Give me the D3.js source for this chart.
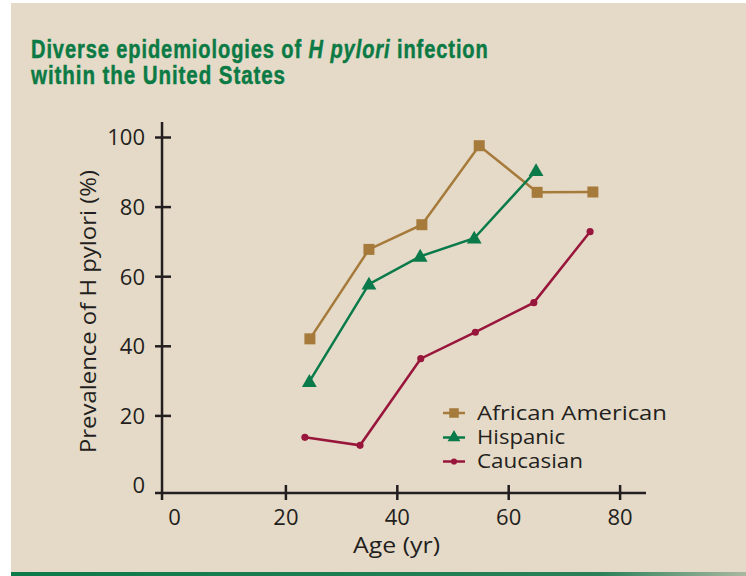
<!DOCTYPE html>
<html><head><meta charset="utf-8">
<script src="https://cdn.jsdelivr.net/npm/d3@7"></script>
<style>html,body{margin:0;padding:0;background:#fff;}svg{display:block;}</style>
</head><body>
<script>
const xTicks = [0, 20, 40, 60, 80];
const yTicks = [0, 20, 40, 60, 80, 100];
const africanAmerican = [[24.4, 42], [35, 67.7], [44.5, 74.8], [54.8, 97.5], [65.2, 84.1], [75.2, 84.2]];
const hispanic = [[24.3, 29.7], [35, 57.7], [44.2, 65.7], [53.9, 70.9], [65, 90.3]];
const caucasian = [[23.5, 13.7], [33.4, 11.4], [44.3, 36.3], [54.1, 43.9], [64.6, 52.4], [74.7, 72.8]];
const seriesNames = ["African American", "Hispanic", "Caucasian"];

const W = 746, H = 576;
const svg = d3.select("body").append("svg").attr("width", W).attr("height", H);
const defs = svg.append("defs");
const grad = defs.append("linearGradient").attr("id", "bl");
grad.append("stop").attr("offset", "0%").attr("stop-color", "#0d7a4a");
grad.append("stop").attr("offset", "80%").attr("stop-color", "#2a8059");
grad.append("stop").attr("offset", "100%").attr("stop-color", "#a8b8a0");

svg.append("rect").attr("x", 11).attr("y", 3).attr("width", W - 11).attr("height", H - 3).attr("fill", "#e5dac7");
svg.append("rect").attr("x", 11).attr("y", 572).attr("width", W - 11).attr("height", 4).attr("fill", "url(#bl)");

// Title (condensed by horizontal scaling)
const titleFont = "'Liberation Sans',sans-serif";
function fitX(sel, x0, target) {
  const w = sel.node().getComputedTextLength();
  sel.attr("transform", `translate(${x0},0) scale(${target / w},1)`);
}
const t1 = svg.append("text").attr("x", 0).attr("y", 58).attr("fill", "#0b7a45")
  .style("font-family", titleFont).style("font-weight", "bold").style("font-size", "26px")
  .style("letter-spacing", "1.2px")
  .attr("stroke", "#0b7a45").attr("stroke-width", 0.5);
t1.append("tspan").text("Diverse epidemiologies of ");
t1.append("tspan").style("font-style", "italic").text("H pylori");
t1.append("tspan").text(" infection");
fitX(t1, 31, 458);
const t2 = svg.append("text").attr("x", 0).attr("y", 84).attr("fill", "#0b7a45")
  .style("font-family", titleFont).style("font-weight", "bold").style("font-size", "26px")
  .style("letter-spacing", "1.2px")
  .attr("stroke", "#0b7a45").attr("stroke-width", 0.5)
  .text("within the United States");
fitX(t2, 31, 255);

const x = d3.scaleLinear().domain([0, 80]).range([174, 619.6]);
const y = d3.scaleLinear().domain([0, 100]).range([485, 137]);

const axisColor = "#231f20";
const font = "'Open Sans', sans-serif";
const axisX0 = x(-2.15), axisY0 = y(-2.3);

// Y axis
const gy = svg.append("g").attr("transform", `translate(${axisX0},0)`)
  .call(d3.axisLeft(y).tickValues(yTicks).tickSize(0).tickPadding(17));
gy.select(".domain").remove();
gy.selectAll(".tick text").style("font-family", font).style("font-size", "22px").attr("fill", axisColor).attr("dy", "0.36em");
gy.selectAll(".tick").filter(d => d !== 0).append("line").attr("x1", -7).attr("x2", 9).attr("stroke", axisColor).attr("stroke-width", 2.5);
svg.append("line").attr("x1", axisX0).attr("x2", axisX0).attr("y1", 122).attr("y2", 500).attr("stroke", axisColor).attr("stroke-width", 2.5);

// X axis
const gx = svg.append("g").attr("transform", `translate(0,${axisY0})`)
  .call(d3.axisBottom(x).tickValues(xTicks).tickSize(0).tickPadding(17));
gx.select(".domain").remove();
gx.selectAll(".tick text").style("font-family", font).style("font-size", "22px").attr("fill", axisColor).attr("dy", "0.68em");
gx.selectAll(".tick").filter(d => d !== 0).append("line").attr("y1", -8).attr("y2", 7).attr("stroke", axisColor).attr("stroke-width", 2.5);
svg.append("line").attr("x1", 155).attr("x2", 646).attr("y1", axisY0).attr("y2", axisY0).attr("stroke", axisColor).attr("stroke-width", 2.5);

// Axis titles
svg.append("text").attr("transform", `translate(96,${311.5}) rotate(-90)`).attr("text-anchor", "middle")
  .style("font-family", font).style("font-size", "22px").attr("fill", axisColor)
  .attr("textLength", 283).attr("lengthAdjust", "spacingAndGlyphs").text("Prevalence of H pylori (%)");
svg.append("text").attr("x", 396.5).attr("y", 552.5).attr("text-anchor", "middle")
  .style("font-family", font).style("font-size", "21px").attr("fill", axisColor)
  .attr("textLength", 87).attr("lengthAdjust", "spacingAndGlyphs").text("Age (yr)");

const colors = ["#a57a3a", "#0a7a4a", "#98153c"];
const datasets = [africanAmerican, hispanic, caucasian];
const line = d3.line().x(d => x(d[0])).y(d => y(d[1]));
const shapes = [d3.symbolSquare, d3.symbolTriangle, d3.symbolCircle];
const sizes = [121, 95, 40];

datasets.forEach((data, i) => {
  svg.append("path").datum(data).attr("d", line).attr("fill", "none").attr("stroke", colors[i]).attr("stroke-width", 2.5);
  svg.selectAll(null).data(data).enter().append("path")
    .attr("d", d3.symbol().type(shapes[i]).size(sizes[i]))
    .attr("transform", d => `translate(${x(d[0])},${y(d[1]) + (i === 1 ? 1 : 0)})`)
    .attr("fill", colors[i]);
});

// Legend
const legY = [413, 437.5, 461.5];
const legW = [190, 88, 106];
seriesNames.forEach((name, i) => {
  const g = svg.append("g").attr("transform", `translate(454,${legY[i]})`);
  g.append("line").attr("x1", -11).attr("x2", 11).attr("stroke", colors[i]).attr("stroke-width", 2.5);
  g.append("path").attr("d", d3.symbol().type(shapes[i]).size(sizes[i] * 0.75)).attr("fill", colors[i]);
  g.append("text").attr("x", 23).attr("y", 6.5).style("font-family", font).style("font-size", "20.5px")
    .attr("fill", axisColor).attr("textLength", legW[i]).attr("lengthAdjust", "spacingAndGlyphs").text(name);
});
</script>
</body></html>
